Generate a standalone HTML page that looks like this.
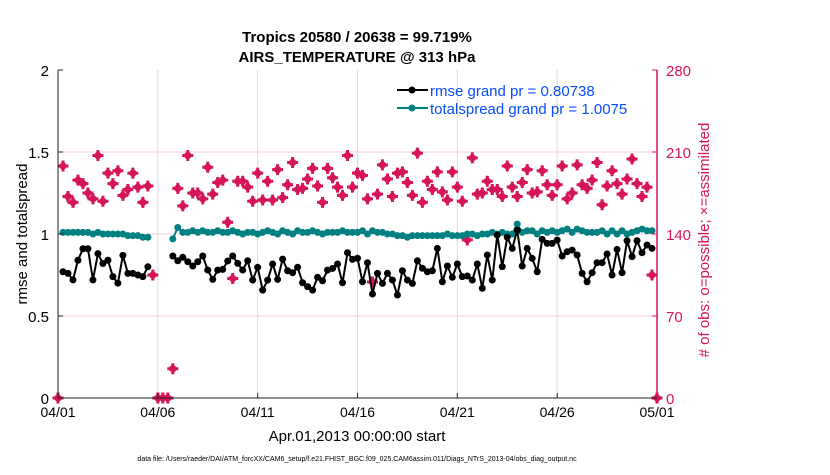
<!DOCTYPE html>
<html><head><meta charset="utf-8"><style>
body{margin:0;background:#fff;width:830px;height:470px;overflow:hidden}
svg{font-family:"Liberation Sans",Arial,sans-serif}
</style></head><body>
<svg id="chart" width="830" height="470" viewBox="0 0 830 470" xmlns="http://www.w3.org/2000/svg">
<text x="357" y="42" text-anchor="middle" font-size="15" font-weight="bold">Tropics 20580 / 20638 = 99.719%</text>
<text x="357" y="62" text-anchor="middle" font-size="15" font-weight="bold">AIRS_TEMPERATURE @ 313 hPa</text>
<g id="grid"></g>
<g id="marks"></g>
<g id="axes"></g>
<g>
<line x1="397" y1="90" x2="428" y2="90" stroke="#000" stroke-width="2"/><circle cx="412" cy="90" r="3.5" fill="#000"/>
<text x="430" y="96" font-size="15" fill="#0a4cff">rmse grand pr = 0.80738</text>
<line x1="397" y1="108" x2="428" y2="108" stroke="#008080" stroke-width="2"/><circle cx="412" cy="108" r="3.5" fill="#008080"/>
<text x="430" y="114" font-size="15" fill="#0a4cff">totalspread grand pr = 1.0075</text>
</g>
<text x="357" y="441" text-anchor="middle" font-size="15">Apr.01,2013 00:00:00 start</text>
<text x="357" y="461" text-anchor="middle" font-size="7">data file: /Users/raeder/DAI/ATM_forcXX/CAM6_setup/f.e21.FHIST_BGC.f09_025.CAM6assim.011/Diags_NTrS_2013-04/obs_diag_output.nc</text>
<text transform="translate(27,234) rotate(-90)" text-anchor="middle" font-size="15">rmse and totalspread</text>
<text transform="translate(709,240) rotate(-90)" text-anchor="middle" font-size="15" fill="#d6145a"># of obs: o=possible; ×=assimilated</text>
</svg>
<script>
const xTicks=[0,5,10,15,20,25,30];
const xTickLabels=["04/01","04/06","04/11","04/16","04/21","04/26","05/01"];
const yLeftTicks=[0,0.5,1,1.5,2];
const yLeftLabels=["0","0.5","1","1.5","2"];
const yRightTicks=[0,70,140,210,280];
const N=null;
const rmse=[N,.77,.76,.72,.84,.91,.91,.72,.88,.82,.84,.74,.70,.87,.76,.76,.75,.74,.80,N,N,N,N,
.866,.837,.858,.831,.805,.831,.866,.780,.723,.780,.784,.835,.866,.821,.780,.837,.719,.797,.658,.719,.817,.723,.847,.776,.764,.797,.703,.679,.658,.736,.715,.780,.790,.817,.703,.886,.845,.852,
.709,.825,.634,.760,.699,.760,.719,.628,.776,.719,.699,.837,.791,.770,.776,.912,.709,.805,.736,.817,.740,.744,.719,.817,.669,.872,.719,.994,.801,.980,.912,1.024,.805,.912,.851,.770,.967,.943,.943,.963,.866,.892,.902,.872,.760,.709,.764,.825,.825,.878,.750,.906,.764,.959,.862,.959,.886,.933,.912,N];
const spread=[N,1.01,1.01,1.01,1.01,1.01,1.01,1.0,1.01,1.0,1.0,1.0,1.0,1.0,.99,.99,.99,.98,.98,N,N,N,N,
.97,1.04,1.01,1.01,1.02,1.01,1.02,1.01,1.01,1.02,1.01,1.01,1.02,1.01,1.0,1.01,1.01,1.0,1.01,1.02,1.01,1.0,1.02,1.01,1.0,1.02,1.01,1.01,1.02,1.01,1.0,1.01,1.01,1.01,1.02,1.01,1.01,1.01,
1.02,1.0,1.02,1.01,1.01,1.0,1.0,.99,.99,.98,.99,.99,.99,.99,.99,.99,.99,1.0,.99,.99,.99,1.0,1.0,.99,1.0,1.0,1.01,1.0,1.01,1.0,1.0,1.06,1.01,1.02,1.02,1.0,1.02,1.01,1.02,1.01,1.02,1.03,1.01,1.03,1.02,1.01,1.01,1.01,1.02,1.0,1.02,1.0,1.02,1.0,1.01,1.02,1.03,1.02,1.02,N];
const nobs=[0,198,172,167,186,183,175,170,207,168,192,183,194,173,178,192,180,167,181,105,0,0,0,25,
179,164,207,175,175,170,197,174,184,186,150,102,185,185,180,168,192,169,185,169,195,171,182,201,178,179,187,196,181,167,196,188,180,173,207,180,192,
190,170,99,174,199,187,172,192,193,184,173,209,167,185,178,193,176,169,193,180,168,135,205,174,175,185,178,178,172,198,180,172,184,195,175,176,194,182,173,182,198,170,175,199,182,179,186,201,165,181,194,183,174,187,204,183,172,180,105,0];
const X0=58,X1=657,Y0=398,Y1=70;
const xS=d=>X0+(d/30)*(X1-X0);
const yL=v=>Y0-(v/2)*(Y0-Y1);
const yR=v=>Y0-(v/280)*(Y0-Y1);
const dayOf=i=>i*0.25;
const NS="http://www.w3.org/2000/svg";
function mk(tag,attrs,parent){const e=document.createElementNS(NS,tag);for(const k in attrs)e.setAttribute(k,attrs[k]);parent.appendChild(e);return e;}
const grid=document.getElementById('grid'),marks=document.getElementById('marks'),axes=document.getElementById('axes');
xTicks.forEach((t,k)=>{
 if(k>0&&k<xTicks.length-1){const g=mk('line',{x1:xS(t),x2:xS(t),y1:Y1,y2:Y0,stroke:'#dcdcdc','stroke-width':1},grid);
 
 }
 const tk=mk('line',{x1:xS(t),x2:xS(t),y1:Y0,y2:Y0-5,stroke:'#222'},axes);
 
 
 const tl=mk('text',{x:xS(t),y:Y0+19,'text-anchor':'middle','font-size':14},axes);tl.textContent=xTickLabels[k];
 
 
});
yRightTicks.forEach((t,k)=>{
 if(k>0&&k<yRightTicks.length-1){const g=mk('line',{x1:X0,x2:X1,y1:yR(t),y2:yR(t),stroke:'#f5cfdc','stroke-width':1},grid);
 
 }
 const tk=mk('line',{x1:X1,x2:X1-5,y1:yR(t),y2:yR(t),stroke:'#d6145a'},axes);
 
 
 const tl=mk('text',{x:X1+9,y:yR(t)+6,'font-size':15,fill:'#d6145a'},axes);tl.textContent=t;
 
 
});
yLeftTicks.forEach((t,k)=>{
 const tk=mk('line',{x1:X0,x2:X0+5,y1:yL(t),y2:yL(t),stroke:'#222'},axes);
 
 
 const tl=mk('text',{x:X0-9,y:yL(t)+6,'text-anchor':'end','font-size':15},axes);tl.textContent=yLeftLabels[k];
 
 
});
let a=mk('line',{x1:X0,x2:X0,y1:Y1,y2:Y0,stroke:'#222'},axes);


a=mk('line',{x1:X1,x2:X1,y1:Y1,y2:Y0,stroke:'#d6145a','stroke-width':1.5},axes);


a=mk('line',{x1:X0,x2:X1,y1:Y0,y2:Y0,stroke:'#222'},axes);


function series(arr,color,name){
 let segs=[],cur=[];
 arr.forEach((v,i)=>{if(v==null){if(cur.length)segs.push(cur);cur=[];}else cur.push([xS(dayOf(i)),yL(v)]);});
 if(cur.length)segs.push(cur);
 segs.forEach(s=>{const p=mk('polyline',{points:s.map(q=>q.join(',')).join(' '),fill:'none',stroke:color,'stroke-width':2},marks);
 
 });
 arr.forEach((v,i)=>{if(v==null)return;const c=mk('circle',{cx:xS(dayOf(i)),cy:yL(v),r:3.5,fill:color},marks);
 
 });
}
nobs.forEach((v,i)=>{
 const x=xS(dayOf(i)),y=yR(v);
 const d=mk('path',{d:`M${x},${y-5}L${x+5},${y}L${x},${y+5}L${x-5},${y}Z M${x-1.5},${y-5.5}h3v11h-3Z M${x-5.5},${y-1.5}h11v3h-11Z`,fill:'#d6145a'},marks);
 
 
});
series(spread,'#008080','totalspread');
series(rmse,'#000','rmse');
</script>
</body></html>
